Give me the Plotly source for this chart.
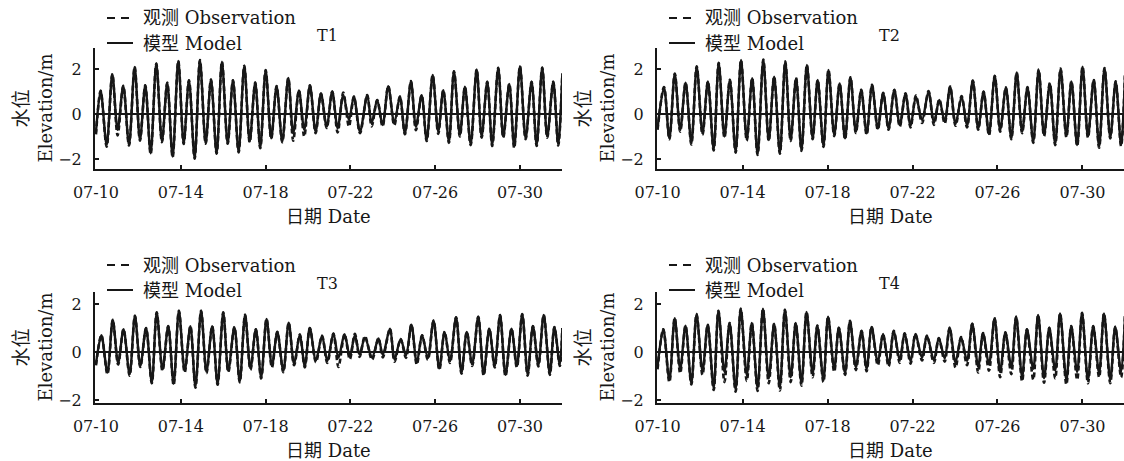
import pandas as pd
import plotly.graph_objects as go

# ---------------------------------------------------------------------------
# Tidal elevation (m) at four stations, 2021-07-10 .. 2021-08-01.
# Each list holds the successive low / high waters; times are hours after
# 07-10 00:00.  The same time list is used for the observed and modelled
# series of a station.
# ---------------------------------------------------------------------------
t1_hours = [0, 5.3, 12.1, 18.5, 24.5, 30.9, 37.4, 43.8, 49.8, 55.8,
            61.9, 68.3, 74.7, 80.7, 86.8, 93.2, 99.3, 105.3, 111.7, 117.7,
            124.2, 130.2, 136.6, 142.6, 149.1, 155.1, 161.5, 167.9, 174.0, 180.3,
            186.0, 192.1, 198.4, 204.5, 210.9, 217.7, 223.3, 229.8, 235.8, 242.2,
            248.7, 254.7, 261.2, 267.5, 273.6, 280.0, 286.4, 292.0, 298.9, 307.1,
            312.1, 318.4, 324.5, 330.9, 337.7, 344.1, 349.8, 356.6, 362.2, 368.7,
            374.4, 381.2, 387.5, 393.2, 399.6, 405.3, 412.0, 417.7, 424.2, 431.0,
            436.6, 443.0, 448.6, 455.4, 461.1, 467.9, 473.5, 480.0, 486.4, 493.2,
            498.9, 505.2, 510.9, 517.7, 523.3, 528.0]
t1_model = [-0.80, 1.03, -1.37, 1.77, -0.70, 1.25, -1.37, 2.09, -1.15, 1.28,
            -1.74, 2.24, -1.22, 1.39, -1.89, 2.35, -1.30, 1.50, -1.96, 2.39,
            -1.30, 1.53, -1.74, 2.32, -1.30, 1.50, -1.67, 2.14, -1.22, 1.40,
            -1.49, 1.95, -1.08, 1.24, -1.22, 1.60, -0.86, 1.05, -0.70, 1.27,
            -0.78, 0.91, -0.56, 1.00, -0.63, 0.85, -0.27, 0.77, -0.78, 0.84,
            -0.41, 0.62, -0.49, 1.24, -0.41, 0.77, -0.86, 1.46, -0.56, 0.84,
            -1.15, 1.73, -0.78, 1.06, -1.22, 1.90, -0.93, 1.21, -1.33, 1.98,
            -1.00, 1.43, -1.37, 2.05, -1.00, 1.33, -1.45, 2.12, -1.08, 1.43,
            -1.37, 2.06, -1.00, 1.43, -1.34, 1.80]
t1_obs = [-0.90, 1.03, -1.45, 1.77, -0.95, 1.25, -1.40, 2.09, -1.18, 1.28,
          -1.78, 2.24, -1.25, 1.39, -1.92, 2.35, -1.33, 1.50, -1.98, 2.39,
          -1.32, 1.53, -1.76, 2.32, -1.32, 1.50, -1.70, 2.14, -1.25, 1.40,
          -1.52, 1.95, -1.10, 1.24, -1.25, 1.60, -1.18, 1.05, -1.00, 1.27,
          -0.85, 0.91, -0.62, 1.00, -0.82, 0.95, -0.55, 0.77, -0.85, 0.84,
          -0.55, 0.62, -0.55, 1.24, -0.50, 0.77, -0.90, 1.46, -0.72, 0.84,
          -1.20, 1.73, -0.88, 1.06, -1.28, 1.90, -1.00, 1.21, -1.38, 1.98,
          -1.05, 1.43, -1.42, 2.05, -1.05, 1.33, -1.50, 2.12, -1.12, 1.43,
          -1.42, 2.06, -1.05, 1.43, -1.40, 1.80]

t2_hours = [0, 7.3, 13.4, 19.5, 25.6, 31.7, 38.2, 44.3, 50.8, 56.9,
            63.4, 69.1, 75.6, 81.7, 88.2, 94.3, 100.8, 106.9, 113.0, 119.5,
            125.6, 131.7, 138.2, 144.3, 150.4, 156.5, 162.6, 168.7, 175.2, 180.9,
            187.4, 193.1, 199.6, 205.7, 211.8, 217.9, 224.0, 230.1, 236.2, 242.3,
            248.8, 254.9, 261.0, 267.5, 273.6, 280.1, 285.8, 291.9, 298.8, 306.1,
            312.2, 318.3, 324.4, 330.5, 336.6, 343.5, 349.6, 356.1, 362.2, 368.3,
            374.4, 380.9, 387.0, 393.5, 399.6, 405.7, 411.8, 417.9, 424.4, 430.5,
            436.6, 443.1, 449.2, 455.3, 461.8, 467.5, 474.0, 480.1, 486.2, 492.7,
            498.8, 504.9, 511.4, 517.5, 523.6, 528.0]
t2_model = [-0.64, 1.18, -1.08, 1.78, -0.71, 1.39, -1.30, 2.10, -0.86, 1.44,
            -1.57, 2.25, -1.00, 1.51, -1.67, 2.40, -1.13, 1.59, -1.78, 2.40,
            -1.16, 1.66, -1.72, 2.33, -1.16, 1.59, -1.60, 2.18, -1.08, 1.51,
            -1.42, 1.96, -0.93, 1.36, -1.08, 1.63, -0.79, 1.07, -0.86, 1.29,
            -0.64, 0.92, -0.64, 1.07, -0.49, 0.89, -0.53, 0.77, -0.27, 0.99,
            -0.39, 0.62, -0.34, 1.21, -0.44, 0.77, -0.53, 1.48, -0.64, 0.99,
            -0.89, 1.69, -0.71, 1.18, -1.08, 1.84, -0.79, 1.18, -1.23, 1.96,
            -0.93, 1.36, -1.33, 2.00, -0.98, 1.44, -1.38, 2.10, -1.00, 1.51,
            -1.45, 2.03, -1.04, 1.44, -1.38, 1.70]
t2_obs = [-0.70, 1.20, -1.12, 1.80, -0.78, 1.40, -1.35, 2.12, -0.92, 1.45,
          -1.62, 2.27, -1.05, 1.52, -1.72, 2.40, -1.18, 1.60, -1.82, 2.42,
          -1.20, 1.66, -1.76, 2.33, -1.20, 1.60, -1.64, 2.18, -1.12, 1.52,
          -1.46, 1.96, -0.98, 1.36, -1.12, 1.63, -0.84, 1.08, -0.92, 1.30,
          -0.70, 0.94, -0.70, 1.08, -0.56, 0.92, -0.60, 0.82, -0.40, 1.02,
          -0.48, 0.65, -0.42, 1.22, -0.52, 0.80, -0.60, 1.48, -0.70, 1.00,
          -0.95, 1.70, -0.78, 1.18, -1.12, 1.84, -0.85, 1.20, -1.28, 1.97,
          -0.98, 1.37, -1.38, 2.02, -1.03, 1.45, -1.42, 2.10, -1.05, 1.52,
          -1.50, 2.04, -1.08, 1.45, -1.42, 1.72]

t3_hours = [0, 6.1, 13.0, 19.0, 25.1, 31.2, 38.1, 44.1, 50.2, 56.7,
            63.2, 68.8, 75.3, 81.8, 87.9, 93.9, 100.4, 106.9, 112.6, 119.0,
            125.1, 131.6, 137.7, 144.1, 149.8, 156.7, 162.8, 168.8, 174.9, 181.0,
            187.0, 193.1, 199.2, 205.3, 212.1, 218.2, 224.3, 230.8, 236.4, 242.1,
            249.0, 255.9, 261.9, 268.8, 274.5, 281.4, 287.4, 293.1, 298.4, 304.5,
            312.6, 319.8, 324.7, 332.8, 338.0, 344.9, 351.0, 357.1, 363.2, 369.2,
            375.7, 382.2, 388.7, 394.7, 400.8, 407.7, 413.8, 419.8, 425.9, 432.8,
            438.9, 445.3, 451.4, 457.5, 463.6, 470.4, 476.5, 482.6, 488.7, 494.7,
            500.8, 506.9, 513.8, 519.0, 525.1, 528.0]
t3_model = [-0.50, 0.70, -0.85, 1.34, -0.45, 0.95, -0.92, 1.51, -0.58, 1.00,
            -1.26, 1.65, -0.72, 1.08, -1.32, 1.72, -0.78, 1.08, -1.43, 1.72,
            -0.81, 1.08, -1.32, 1.65, -0.78, 1.04, -1.22, 1.55, -0.68, 0.95,
            -1.05, 1.38, -0.58, 0.84, -0.78, 1.22, -0.49, 0.73, -0.58, 1.00,
            -0.35, 0.68, -0.38, 0.77, -0.24, 0.74, -0.18, 0.70, -0.10, 0.60,
            -0.22, 0.57, -0.11, 0.97, -0.31, 0.54, -0.14, 1.14, -0.45, 0.70,
            -0.24, 1.31, -0.68, 0.84, -0.38, 1.45, -0.85, 0.84, -0.51, 1.47,
            -0.92, 0.97, -0.58, 1.54, -0.95, 0.97, -0.58, 1.58, -0.92, 1.08,
            -0.54, 1.54, -0.89, 1.04, -0.51, 1.00]
t3_obs = [-0.55, 0.70, -0.92, 1.34, -0.52, 0.95, -0.98, 1.51, -0.62, 1.00,
          -1.30, 1.65, -0.78, 1.08, -1.38, 1.72, -0.85, 1.08, -1.48, 1.72,
          -0.88, 1.08, -1.36, 1.65, -0.84, 1.04, -1.26, 1.55, -0.74, 0.95,
          -1.10, 1.38, -0.64, 0.84, -0.84, 1.22, -0.55, 0.73, -0.64, 1.00,
          -0.42, 0.68, -0.45, 0.77, -0.62, 0.74, -0.30, 0.76, -0.20, 0.66,
          -0.32, 0.57, -0.22, 0.97, -0.40, 0.54, -0.24, 1.14, -0.52, 0.70,
          -0.32, 1.31, -0.74, 0.84, -0.45, 1.45, -0.90, 0.84, -0.58, 1.47,
          -0.98, 0.97, -0.64, 1.54, -1.00, 0.97, -0.64, 1.58, -0.98, 1.08,
          -0.60, 1.54, -0.95, 1.04, -0.58, 1.00]

t4_hours = [0, 6.5, 13.4, 19.4, 25.6, 31.6, 38.2, 44.1, 50.8, 56.7,
            63.4, 68.8, 75.6, 81.4, 88.2, 94.0, 100.8, 106.5, 113.0, 119.1,
            125.6, 131.7, 138.2, 143.9, 150.4, 156.1, 162.6, 168.3, 175.2, 180.5,
            187.4, 192.6, 199.6, 204.8, 211.8, 217.4, 224.0, 230.4, 236.2, 241.8,
            248.8, 254.7, 261.0, 266.9, 273.6, 279.1, 285.8, 291.3, 298.8, 304.3,
            312.2, 317.7, 324.4, 329.9, 336.6, 342.9, 349.6, 355.5, 362.2, 367.7,
            374.4, 380.7, 387.0, 392.9, 399.6, 405.1, 411.8, 417.3, 424.4, 429.9,
            436.6, 442.5, 449.2, 454.7, 461.8, 467.3, 474.0, 479.5, 486.2, 492.1,
            498.8, 504.3, 511.4, 517.0, 523.6, 528.0]
t4_model = [-0.60, 0.95, -1.16, 1.41, -0.70, 1.10, -1.29, 1.58, -0.79, 1.14,
            -1.49, 1.71, -0.83, 1.21, -1.55, 1.80, -0.96, 1.21, -1.49, 1.80,
            -1.09, 1.18, -1.45, 1.76, -1.05, 1.21, -1.29, 1.67, -0.89, 1.10,
            -1.16, 1.47, -0.70, 1.01, -0.87, 1.30, -0.63, 0.88, -0.70, 1.05,
            -0.43, 0.75, -0.50, 0.88, -0.34, 0.78, -0.39, 0.75, -0.24, 0.68,
            -0.34, 0.58, -0.26, 1.01, -0.43, 0.62, -0.37, 1.18, -0.61, 0.79,
            -0.50, 1.41, -0.83, 0.82, -0.63, 1.47, -1.03, 0.95, -0.70, 1.54,
            -1.09, 1.01, -0.76, 1.61, -1.16, 1.08, -0.83, 1.63, -1.16, 1.08,
            -0.87, 1.61, -1.16, 1.05, -0.83, 1.50]
t4_obs = [-0.72, 0.95, -1.25, 1.42, -0.88, 1.10, -1.35, 1.58, -0.95, 1.14,
          -1.58, 1.72, -1.25, 1.21, -1.65, 1.80, -1.20, 1.22, -1.62, 1.80,
          -1.30, 1.18, -1.60, 1.76, -1.25, 1.21, -1.40, 1.67, -1.05, 1.10,
          -1.25, 1.47, -0.82, 1.01, -0.95, 1.30, -0.75, 0.88, -0.80, 1.05,
          -0.55, 0.75, -0.60, 0.88, -0.45, 0.78, -0.48, 0.75, -0.35, 0.68,
          -0.45, 0.58, -0.40, 1.01, -0.65, 0.62, -0.55, 1.18, -0.85, 0.79,
          -0.78, 1.41, -1.05, 0.82, -0.92, 1.47, -1.22, 0.95, -1.15, 1.54,
          -1.28, 1.01, -1.10, 1.61, -1.35, 1.08, -1.15, 1.63, -1.30, 1.08,
          -1.05, 1.61, -1.30, 1.05, -1.05, 1.50]

station_names = ["T1", "T2", "T3", "T4"]
tick_labels = ["07-10", "07-14", "07-18", "07-22", "07-26", "07-30"]
y_ticks = [-2, 0, 2]
obs_label = "观测 Observation"
model_label = "模型 Model"
x_title = "日期 Date"
y_title_cn = "水位"
y_title_en = "Elevation/m"

# ---------------------------------------------------------------------------
W, H = 1124, 461
FONT = "'DejaVu Serif', 'Noto Sans CJK SC', serif"
INK = "#171717"
YEAR = "2021"
START = pd.Timestamp(f"{YEAR}-07-10")


def fx(px):
    return px / W


def fy(px):
    return 1 - px / H


def when(hours):
    return [START + pd.Timedelta(hours=h) for h in hours]


series = [
    (t1_hours, t1_obs, t1_model),
    (t2_hours, t2_obs, t2_model),
    (t3_hours, t3_obs, t3_model),
    (t4_hours, t4_obs, t4_model),
]

# panel frames in pixels
frames = [
    dict(left=95, right=562, top=48, bottom=169, yr=(-2.44, 2.93), hr=(-1.1, 527.6), head=18),
    dict(left=657, right=1124, top=48, bottom=169, yr=(-2.44, 2.93), hr=(-0.6, 526.9), head=18),
    dict(left=95, right=562, top=292, bottom=403, yr=(-2.12, 2.50), hr=(-1.1, 527.6), head=265),
    dict(left=657, right=1124, top=292, bottom=403, yr=(-2.12, 2.50), hr=(-0.6, 526.9), head=265),
]

fig = go.Figure()
annotations = []
shapes = []

tick_dates = [pd.Timestamp(f"{YEAR}-{lbl}") for lbl in tick_labels]

for i, (name, (hrs, obs, mod), fr) in enumerate(zip(station_names, series, frames), start=1):
    assert len(hrs) == len(obs) == len(mod)
    xs = when(hrs)
    xref = "x" if i == 1 else f"x{i}"
    yref = "y" if i == 1 else f"y{i}"

    fig.add_trace(go.Scatter(
        x=xs, y=obs, name=obs_label, mode="lines", showlegend=False,
        line=dict(color=INK, width=2.6, dash="5px,3px", shape="spline", smoothing=0.9),
        xaxis=xref, yaxis=yref, hoverinfo="skip"))
    fig.add_trace(go.Scatter(
        x=xs, y=mod, name=model_label, mode="lines", showlegend=False,
        line=dict(color=INK, width=2.4, shape="spline", smoothing=0.9),
        xaxis=xref, yaxis=yref, hoverinfo="skip"))

    xa = "xaxis" if i == 1 else f"xaxis{i}"
    ya = "yaxis" if i == 1 else f"yaxis{i}"
    fig.update_layout(**{
        xa: dict(
            domain=[fx(fr["left"]), fx(fr["right"])], anchor=yref, type="date",
            automargin=False,
            range=[START + pd.Timedelta(hours=fr["hr"][0]), START + pd.Timedelta(hours=fr["hr"][1])],
            tickvals=tick_dates, ticktext=tick_labels,
            ticks="inside", ticklen=4, tickwidth=1.5, tickcolor=INK,
            showline=True, linecolor=INK, linewidth=2,
            showgrid=False, zeroline=False, ticklabelstandoff=8,
            tickfont=dict(family=FONT, size=16, color=INK)),
        ya: dict(
            domain=[fy(fr["bottom"]), fy(fr["top"])], anchor=xref,
            automargin=False,
            range=list(fr["yr"]), tickvals=y_ticks,
            ticks="inside", ticklen=4, tickwidth=1.5, tickcolor=INK,
            showline=True, linecolor=INK, linewidth=2,
            showgrid=False, zeroline=True, zerolinecolor=INK, zerolinewidth=1.5,
            ticklabelstandoff=8,
            tickfont=dict(family=FONT, size=16, color=INK)),
    })

    left, right, top, bottom, head = fr["left"], fr["right"], fr["top"], fr["bottom"], fr["head"]
    mid_y = (top + bottom) / 2
    mid_x = (left + right) / 2

    # legend samples
    shapes.append(dict(type="line", xref="paper", yref="paper",
                       x0=fx(left + 12), x1=fx(left + 38), y0=fy(head), y1=fy(head),
                       line=dict(color=INK, width=2, dash="8px,6px")))
    shapes.append(dict(type="line", xref="paper", yref="paper",
                       x0=fx(left + 12), x1=fx(left + 38), y0=fy(head + 25), y1=fy(head + 25),
                       line=dict(color=INK, width=2)))
    for txt, yy in ((obs_label, head), (model_label, head + 25)):
        annotations.append(dict(text=txt, xref="paper", yref="paper", x=fx(left + 46), y=fy(yy),
                                xanchor="left", yanchor="middle", showarrow=False,
                                font=dict(family=FONT, size=18, color=INK)))
    # station tag
    annotations.append(dict(text=name, xref="paper", yref="paper", x=fx(left + 232), y=fy(head + 18),
                            xanchor="center", yanchor="middle", showarrow=False,
                            font=dict(family=FONT, size=16, color=INK)))
    # axis titles
    annotations.append(dict(text=x_title, xref="paper", yref="paper", x=fx(mid_x), y=fy(bottom + 47),
                            xanchor="center", yanchor="middle", showarrow=False,
                            font=dict(family=FONT, size=18, color=INK)))
    annotations.append(dict(text=y_title_cn, xref="paper", yref="paper", x=fx(left - 75), y=fy(mid_y),
                            xanchor="center", yanchor="middle", showarrow=False, textangle=-90,
                            font=dict(family=FONT, size=19, color=INK)))
    annotations.append(dict(text=y_title_en, xref="paper", yref="paper", x=fx(left - 50), y=fy(mid_y),
                            xanchor="center", yanchor="middle", showarrow=False, textangle=-90,
                            font=dict(family=FONT, size=18, color=INK)))

fig.update_layout(
    template="none",
    width=W, height=H, margin=dict(l=0, r=0, t=0, b=0),
    paper_bgcolor="white", plot_bgcolor="white",
    showlegend=False, annotations=annotations, shapes=shapes,
)

fig.write_html("out.html")
